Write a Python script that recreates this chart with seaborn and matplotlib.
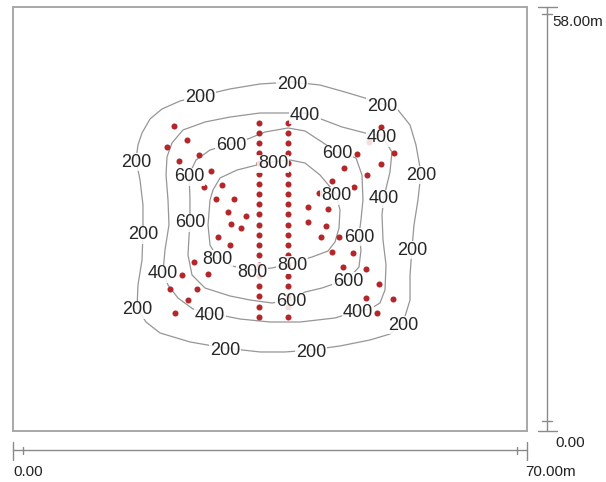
# Contour map of measured values with sampling points

import numpy as np
import pandas as pd
import matplotlib
matplotlib.use('Agg')
import matplotlib.pyplot as plt
import seaborn as sns

sns.set_style('white')
plt.rcParams['font.family'] = ['Liberation Sans', 'DejaVu Sans']

# Site size (m)
site_w = 70.0
site_h = 58.0

# Sampling points: two survey lines
line_x = [33.5, 37.4]
line_y = [42.1, 40.8, 39.4, 38.0, 36.7, 35.2, 33.8, 32.4, 31.1, 29.7,
          28.2, 26.8, 25.4, 24.1, 22.7, 21.2, 19.8, 18.5, 17.0, 15.6]

# Sampling points: scattered
spot_x = [21.9, 23.7, 21.0, 22.6, 25.3, 26.9, 26.0, 28.5, 27.7, 30.1,
          29.3, 31.7, 29.7, 31.0, 27.9, 29.6, 24.7, 23.0, 26.6, 21.4,
          25.1, 23.8, 22.0,
          40.2, 40.2, 41.9, 46.9, 51.9, 50.1, 45.1, 48.2, 43.4, 46.4,
          41.7, 42.9, 42.6, 44.4, 43.5, 46.3, 45.0, 48.1, 49.9, 48.1,
          51.8, 49.6, 50.1, 48.5]
spot_y = [41.7, 39.8, 38.8, 36.9, 37.8, 35.6, 33.4, 33.7, 31.7, 31.7,
          30.0, 29.4, 28.3, 27.8, 26.6, 25.4, 23.1, 21.3, 21.5, 19.4,
          19.4, 17.9, 16.1,
          30.7, 28.6, 26.6, 37.9, 38.0, 36.5, 36.0, 35.0, 34.2, 33.4,
          32.6, 30.4, 28.1, 26.5, 24.5, 24.3, 22.4, 22.2, 20.1, 18.2,
          18.1, 16.1, 41.6, 39.6]

# Contour lines (m)
c200_x = [38.00, 41.81, 45.21, 47.94, 50.25, 52.43, 54.07, 54.88, 55.56, 55.15,
          54.61, 54.34, 54.07, 54.07, 53.11, 51.34, 48.62, 44.53, 40.58, 37.04,
          33.64, 28.87, 24.10, 20.02, 18.11, 16.89, 17.02, 17.57, 17.70, 17.70,
          17.30, 16.75, 17.02, 17.57, 18.66, 20.29, 22.74, 25.47, 29.55, 33.64]
c200_y = [47.74, 47.33, 46.37, 45.55, 44.73, 43.91, 41.86, 39.12, 35.29, 31.60,
          28.18, 25.03, 21.34, 17.92, 14.77, 13.27, 12.45, 11.63, 11.08, 10.81,
          10.81, 11.35, 12.18, 13.41, 14.91, 16.83, 19.97, 23.39, 27.09, 30.92,
          34.34, 37.07, 39.12, 40.77, 42.68, 44.05, 45.14, 45.83, 46.79, 47.47]

c400_x = [39.77, 44.80, 47.94, 50.25, 51.61, 51.34, 50.52, 50.25, 50.39, 50.80,
          50.66, 49.98, 48.62, 46.98, 43.85, 39.08, 35.00, 30.91, 26.83, 24.51,
          22.47, 21.11, 20.43, 20.70, 21.24, 21.11, 20.84, 20.97, 21.65, 23.15,
          26.15, 29.55, 33.64]
c400_y = [43.50, 41.59, 40.77, 40.36, 38.17, 35.43, 32.01, 29.55, 26.13, 22.71,
          19.29, 17.51, 16.69, 16.42, 15.46, 14.91, 14.91, 15.32, 16.14, 16.69,
          18.19, 19.97, 21.75, 24.76, 28.18, 31.60, 35.02, 37.48, 39.40, 41.18,
          42.27, 42.95, 43.50]

c600_x = [29.69, 32.00, 34.32, 37.45, 39.77, 42.08, 44.12, 46.71, 47.53, 47.66,
          47.39, 47.12, 47.39, 47.12, 45.62, 42.08, 39.77, 37.86, 35.27, 32.28,
          29.55, 26.15, 24.38, 23.83, 23.97, 24.10, 24.10, 23.97, 24.92, 26.83]
c600_y = [39.26, 39.95, 40.90, 41.45, 41.04, 39.53, 38.17, 37.35, 35.02, 31.60,
          28.86, 26.81, 24.76, 22.43, 20.79, 19.56, 19.01, 17.92, 17.51, 17.92,
          18.47, 19.56, 21.34, 24.08, 26.54, 28.73, 31.87, 35.02, 37.07, 38.44]

c800_x = [35.41, 37.72, 39.77, 41.81, 43.99, 44.53, 44.40, 43.85, 42.90, 40.72,
          38.00, 35.27, 32.55, 29.82, 27.78, 26.83, 26.56, 26.83, 27.24, 28.19,
          30.51, 33.23]
c800_y = [36.80, 37.07, 36.66, 35.02, 32.42, 30.23, 27.77, 25.85, 24.62, 23.80,
          22.98, 22.30, 22.02, 22.57, 23.80, 25.44, 28.18, 31.60, 32.97, 34.61,
          35.70, 36.39]

# Contour labels
label_level = [200] * 11 + [400] * 6 + [600] * 7 + [800] * 5
label_x = [25.47, 38.00, 50.25, 55.56, 54.34, 53.11, 40.58, 28.87, 16.89, 17.70, 16.75,
           39.77, 50.25, 50.52, 46.98, 26.83, 20.43,
           29.69, 44.12, 47.12, 45.62, 37.86, 24.10, 23.97,
           35.41, 43.99, 38.00, 32.55, 27.78]
label_y = [45.83, 47.74, 44.73, 35.29, 25.03, 14.77, 11.08, 11.35, 16.83, 27.09, 37.07,
           43.50, 40.36, 32.01, 16.42, 16.14, 21.75,
           39.26, 38.17, 26.81, 20.79, 17.92, 28.73, 35.02,
           36.80, 32.42, 22.98, 22.02, 23.80]

# Build tables
points = pd.DataFrame({
    'x': [lx for lx in line_x for _ in line_y] + spot_x,
    'y': [ly for _ in line_x for ly in line_y] + spot_y,
})

frames = []
for level, cx, cy in [(200, c200_x, c200_y), (400, c400_x, c400_y),
                      (600, c600_x, c600_y), (800, c800_x, c800_y)]:
    frames.append(pd.DataFrame({'x': cx + cx[:1], 'y': cy + cy[:1], 'level': level}))
contours = pd.concat(frames, ignore_index=True)

# Plot
fig = plt.figure(figsize=(6.06, 4.82), dpi=100)
ax = fig.add_axes([13 / 606, 51 / 482, 514 / 606, 424 / 482])

sns.lineplot(data=contours, x='x', y='y', units='level', estimator=None, sort=False,
             color='#969696', linewidth=0.9, ax=ax, zorder=1)
sns.scatterplot(data=points, x='x', y='y', color='#b3262a', s=19, linewidth=0,
                ax=ax, zorder=3)

for lx, ly, lv in zip(label_x, label_y, label_level):
    ax.text(lx, ly, str(lv), ha='center', va='center_baseline', fontsize=13,
            color='#262626', zorder=4,
            bbox=dict(boxstyle='square,pad=0.03', fc='white', ec='none', alpha=0.85))

ax.set_xlim(0, site_w)
ax.set_ylim(0, site_h)
ax.set_xticks([])
ax.set_yticks([])
ax.set_xlabel('')
ax.set_ylabel('')
for s in ax.spines.values():
    s.set_color('#a8a8a8')
    s.set_linewidth(1.4)

# Scale bars
bar = dict(color='#8a8a8a', linewidth=1, clip_on=False)
ax.plot([0, site_w], [-2.6, -2.6], **bar)
ax.plot([0, 0], [-1.5, -4.0], **bar)
ax.plot([site_w, site_w], [-1.5, -4.0], **bar)
ax.plot([1.4, 1.4], [-2.2, -3.1], **bar)
ax.plot([site_w - 1.4, site_w - 1.4], [-2.2, -3.1], **bar)

ax.plot([72.7, 72.7], [0, site_h], **bar)
ax.plot([71.5, 74.1], [site_h, site_h], **bar)
ax.plot([71.5, 74.1], [0, 0], **bar)
ax.plot([72.1, 73.4], [site_h - 1.0, site_h - 1.0], **bar)
ax.plot([72.1, 73.4], [1.3, 1.3], **bar)

txt = dict(fontsize=11, color='#222222')
ax.text(73.5, 56.0, '58.00m', ha='left', va='center', **txt)
ax.text(73.8, -1.6, '0.00', ha='left', va='center', **txt)
ax.text(0, -5.6, '0.00', ha='left', va='center', **txt)
ax.text(69.7, -5.6, '70.00m', ha='left', va='center', **txt)

fig.savefig('out.png', dpi=100)
